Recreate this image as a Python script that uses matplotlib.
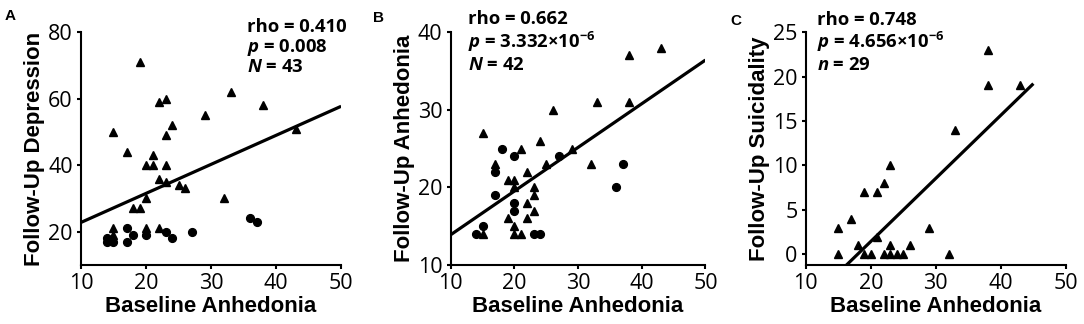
import numpy as np
import matplotlib.pyplot as plt

plt.rcParams['mathtext.fontset'] = 'custom'
plt.rcParams['mathtext.rm'] = 'Open Sans:bold'
plt.rcParams['mathtext.it'] = 'Open Sans:italic:bold'
plt.rcParams['mathtext.bf'] = 'Open Sans:bold'

# panel A: follow-up depression
a_tri_x = [19, 23, 22, 33, 38, 29, 15, 24, 23, 43, 17, 21, 20, 21, 23, 22, 23, 25, 26, 32, 20, 18, 19, 15, 15, 20, 20, 22]
a_tri_y = [71, 60, 59, 62, 58, 55, 50, 52, 49, 51, 44, 43, 40, 40, 40, 36, 35, 34, 33, 30, 30, 27, 27, 21, 19, 21, 20, 21]
a_cir_x = [14, 14, 15, 17, 17, 18, 20, 23, 24, 27, 36, 37]
a_cir_y = [18, 17, 17, 21, 17, 19, 19, 20, 18, 20, 24, 23]
a_fit_x = [10, 50]
a_fit_y = [22.8, 57.7]

# panel B: follow-up anhedonia
b_tri_x = [15, 17, 19, 20, 20, 21, 22, 23, 23, 22, 24, 25, 26, 29, 32, 33, 38, 38, 43, 23, 22, 19, 20, 20, 21, 15]
b_tri_y = [27, 23, 21, 21, 20, 25, 22, 20, 19, 18, 26, 23, 30, 25, 23, 31, 31, 37, 38, 17, 16, 16, 15, 14, 14, 14]
b_cir_x = [18, 17, 17, 20, 20, 20, 15, 14, 23, 24, 27, 36, 37]
b_cir_y = [25, 22, 19, 24, 18, 17, 15, 14, 14, 14, 24, 20, 23]
b_fit_x = [10, 50]
b_fit_y = [13.9, 36.4]

# panel C: follow-up suicidality
c_tri_x = [15, 15, 17, 18, 19, 19, 20, 21, 21, 22, 22, 23, 23, 23, 24, 25, 26, 29, 32, 33, 38, 38, 43]
c_tri_y = [3, 0, 4, 1, 7, 0, 0, 7, 2, 8, 0, 10, 1, 0, 0, 0, 1, 3, 0, 14, 23, 19, 19]
c_fit_x = [15, 45]
c_fit_y = [-2.1, 19.2]

panels = [
    dict(letter='A', pos=[0.0747, 0.182, 0.240, 0.719], ylabel='Follow-Up Depression',
         tri=(a_tri_x, a_tri_y), cir=(a_cir_x, a_cir_y), fit=(a_fit_x, a_fit_y),
         ylim=(10, 80), yticks=[20, 40, 60, 80],
         stats=['rho = 0.410', r'$p$ = 0.008', r'$N$ = 43'], stat_x=247, stat_y=[27, 47, 67]),
    dict(letter='B', pos=[0.4158, 0.182, 0.235, 0.719], ylabel='Follow-Up Anhedonia',
         tri=(b_tri_x, b_tri_y), cir=(b_cir_x, b_cir_y), fit=(b_fit_x, b_fit_y),
         ylim=(10, 40), yticks=[10, 20, 30, 40],
         stats=['rho = 0.662', r'$p$ = 3.332×10$^{-6}$', r'$N$ = 42'], stat_x=468, stat_y=[19, 42, 65]),
    dict(letter='C', pos=[0.7433, 0.182, 0.240, 0.719], ylabel='Follow-Up Suicidality',
         tri=(c_tri_x, c_tri_y), cir=None, fit=(c_fit_x, c_fit_y),
         ylim=(-1.2, 25), yticks=[0, 5, 10, 15, 20, 25],
         stats=['rho = 0.748', r'$p$ = 4.656×10$^{-6}$', r'$n$ = 29'], stat_x=817, stat_y=[20, 42, 65]),
]

W, H = 1084, 324
fig = plt.figure(figsize=(W / 100, H / 100), dpi=100)

letter_pos = {'A': (5, 16), 'B': (373, 18), 'C': (730, 21)}

for p in panels:
    ax = fig.add_axes(p['pos'])
    ax.plot(*p['tri'], linestyle='none', marker='^', ms=6.2, color='black')
    if p['cir'] is not None:
        ax.plot(*p['cir'], linestyle='none', marker='o', ms=5.6, color='black')
    ax.plot(*p['fit'], color='black', lw=2.3, solid_capstyle='butt')
    ax.set_xlim(10, 50)
    ax.set_ylim(*p['ylim'])
    ax.set_xticks([10, 20, 30, 40, 50])
    ax.set_yticks(p['yticks'])
    for s in ['top', 'right']:
        ax.spines[s].set_visible(False)
    for s in ['left', 'bottom']:
        ax.spines[s].set_linewidth(1.5)
    ax.tick_params(length=3, width=1.5, labelsize=15.5, pad=3)
    for lab in ax.get_xticklabels() + ax.get_yticklabels():
        lab.set_family('Open Sans')
    ax.set_xlabel('Baseline Anhedonia', family='Liberation Sans', weight='bold', fontsize=16, labelpad=1)
    ax.set_ylabel(p['ylabel'], family='Liberation Sans', weight='bold', fontsize=16, labelpad=2)
    for txt, y in zip(p['stats'], p['stat_y']):
        fig.text(p['stat_x'] / W, 1 - y / H, txt, family='Open Sans', weight='bold',
                 fontsize=13.3, va='center', ha='left')
    lx, ly = letter_pos[p['letter']]
    fig.text(lx / W, 1 - ly / H, p['letter'], family='Liberation Sans', weight='bold',
             fontsize=11, va='center', ha='left')

plt.savefig('out.png', dpi=100)
